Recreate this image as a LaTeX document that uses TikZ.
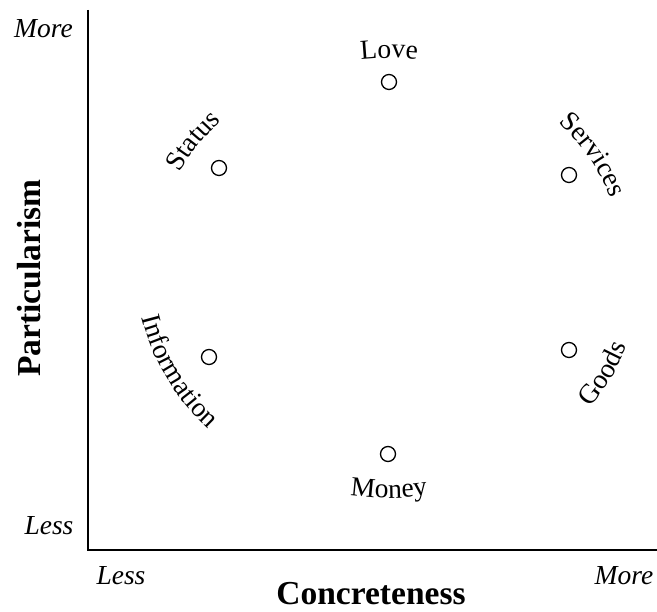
\documentclass[tikz,border=0pt]{standalone}
\usepackage{fontspec}
\setmainfont{Liberation Serif}
\usetikzlibrary{calc,decorations.text}
\newcommand{\lblfont}{\fontsize{27.5}{30}\selectfont}

\begin{document}
\begin{tikzpicture}[
        x=1pt, y=1pt,
        marker/.style={
          circle,
          draw,
          line width=1.3pt,
          minimum size=15pt,
          inner sep=0pt
        },
        axis/.style={
          line width=1.5pt
        },
        endlabel/.style={
          font=\lblfont\itshape,
          anchor=base,
          inner sep=0pt
        },
        axistitle/.style={
          font=\fontsize{33.5}{36}\selectfont\bfseries,
          anchor=base,
          inner sep=0pt
        },
        arclabel/.style={
          decorate,
          decoration={text along path, text align=center, text={|\lblfont|#1}}
        }
      ]

      \useasboundingbox (0,0) rectangle (657,612);

      % axes
      \coordinate (top) at (88,602);
      \coordinate (origin) at (88,62);
      \coordinate (right) at (657,62);
      \draw[axis] (top) -- (origin) -- (right);

      \node[endlabel] (ymore) at (43.5,574) {More};
      \node[endlabel] (yless) at (49,77) {Less};
      \node[endlabel] (xless) at (121,27) {Less};
      \node[endlabel] (xmore) at (624,27) {More};
      \node[axistitle] (xtitle) at (371,7) {Concreteness};
      \node[axistitle, rotate=90] (ytitle) at (40,334) {Particularism};

      % resources
      \coordinate (ctr) at (389,344);
      \node[marker] (love) at (389,530) {};
      \node[marker] (status) at (219,444) {};
      \node[marker] (services) at (569,437) {};
      \node[marker] (information) at (209,255) {};
      \node[marker] (goods) at (569,262) {};
      \node[marker] (money) at (388,158) {};

      % curved labels
      \path[arclabel=Love] ($(ctr)+(120:235pt and 210pt)$)
        arc[start angle=120, end angle=60, x radius=235pt, y radius=210pt];
      \path[arclabel=Status] ($(ctr)+(175:235pt and 210pt)$)
        arc[start angle=175, end angle=115, x radius=235pt, y radius=210pt];
      \path[arclabel=Services] ($(ctr)+(61:235pt and 210pt)$)
        arc[start angle=61, end angle=1, x radius=235pt, y radius=210pt];
      \path[arclabel=Information] ($(ctr)+(178:253pt and 230pt)$)
        arc[start angle=178, end angle=238, x radius=253pt, y radius=230pt];
      \path[arclabel=Money] ($(ctr)+(240:253pt and 230pt)$)
        arc[start angle=240, end angle=300, x radius=253pt, y radius=230pt];
      \path[arclabel=Goods] ($(ctr)+(302:253pt and 230pt)$)
        arc[start angle=302, end angle=362, x radius=253pt, y radius=230pt];

      \end{tikzpicture}
\end{document}
